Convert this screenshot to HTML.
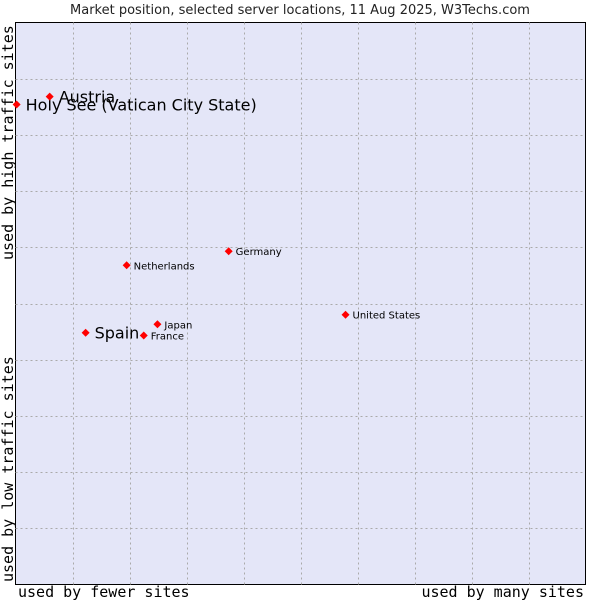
<!DOCTYPE html>
<html><head><meta charset="utf-8"><style>
body{margin:0;background:#fff;width:600px;height:600px;overflow:hidden}
svg{display:block;font-family:"DejaVu Sans","Liberation Sans",sans-serif}
.mono{font-family:"DejaVu Sans Mono","Liberation Mono",monospace}
</style></head><body>
<svg id="chart" width="600" height="600">
<text x="300" y="14" text-anchor="middle" font-size="13" fill="#222">Market position, selected server locations, 11 Aug 2025, W3Techs.com</text>
<rect x="15.5" y="22.5" width="570" height="562" fill="#e4e6f8" stroke="#000" stroke-width="1"/>
<g id="grid"></g>
<g id="points"></g>
<text class="mono" x="18" y="597" font-size="15" fill="#000">used by fewer sites</text>
<text class="mono" x="584" y="597" font-size="15" fill="#000" text-anchor="end">used by many sites</text>
<text class="mono" transform="translate(13,260) rotate(-90)" font-size="15" fill="#000">used by high traffic sites</text>
<text class="mono" transform="translate(13,582) rotate(-90)" font-size="15" fill="#000">used by low traffic sites</text>
</svg>
<script>
const names=["Holy See (Vatican City State)","Austria","Netherlands","Germany","United States","Spain","Japan","France"];
const xValues=[0.2,6.0,19.5,37.4,57.9,12.3,24.9,22.5];
const yValues=[85.4,86.8,56.8,59.3,48.0,44.8,46.3,44.3];
const labelSizes=[16,16,10,10,10,16,10,10];
const L=15.5,R=585.5,T=22.5,B=584.5;
const sx=v=>L+(R-L)*v/100, sy=v=>B-(B-T)*v/100;
const ns="http://www.w3.org/2000/svg";
const grid=document.getElementById('grid');
for(let i=1;i<10;i++){
 const gx=document.createElementNS(ns,'line');
 
 
 gx.setAttribute('x1',Math.round(sx(i*10))+.5);gx.setAttribute('x2',Math.round(sx(i*10))+.5);
 gx.setAttribute('y1',T);gx.setAttribute('y2',B);
 gx.setAttribute('stroke','#aaa');gx.setAttribute('stroke-dasharray','2,3');
 grid.appendChild(gx);
 const gy=document.createElementNS(ns,'line');
 
 
 gy.setAttribute('y1',Math.round(sy(i*10))+.5);gy.setAttribute('y2',Math.round(sy(i*10))+.5);
 gy.setAttribute('x1',L);gy.setAttribute('x2',R);
 gy.setAttribute('stroke','#aaa');gy.setAttribute('stroke-dasharray','2,3');
 grid.appendChild(gy);
}
const pts=document.getElementById('points');
names.forEach((n,i)=>{
 const x=sx(xValues[i]),y=sy(yValues[i]);
 const d=document.createElementNS(ns,'path');
 
 
 d.setAttribute('d',`M${x-4},${y} L${x},${y-4} L${x+4},${y} L${x},${y+4} Z`);
 d.setAttribute('fill','#f00');
 pts.appendChild(d);
 const t=document.createElementNS(ns,'text');
 
 
 t.setAttribute('x',x+(labelSizes[i]>12?9:7));
 t.setAttribute('y',y+(labelSizes[i]>12?6:4));
 t.setAttribute('font-size',labelSizes[i]);
 t.setAttribute('fill','#000');
 t.textContent=n;
 pts.appendChild(t);
});
</script>
</body></html>
